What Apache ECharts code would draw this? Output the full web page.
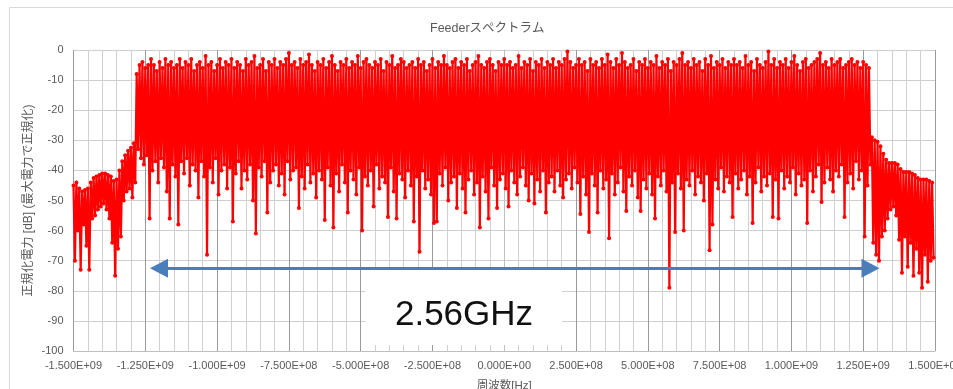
<!DOCTYPE html>
<html>
<head>
<meta charset="utf-8">
<script src="https://cdn.jsdelivr.net/npm/echarts@6/dist/echarts.min.js"></script>
<style>
html,body{margin:0;padding:0;background:#fff;}
#chart{width:953px;height:389px;}
</style>
</head>
<body>
<div id="chart"></div>
<script>
// ---- Data ----
const titleText = 'Feederスペクトラム';
const xAxisName = '周波数[Hz]';
const yAxisName = '正規化電力 [dB] (最大電力で正規化)';
const annotationText = '2.56GHz';

// Frequency bins: each bin holds one high sample and one low sample.
const binStart = -1.5e9;
const binWidth = 1e7;

// Left skirt (-1.50E+09 .. -1.29E+09)
const leftSkirtHigh = [-45,-44,-46,-47,-46.5,-46,-44,-42.5,-42,-41.5,-41,-41,-41.5,-42,-43.5,-43,-40,-37,-35,-33.5,-32.5,-31];
const leftSkirtLow  = [-70,-60,-73,-58,-65,-73,-56,-55,-53,-52,-51,-53,-56,-64,-75,-66,-62,-50,-47,-46,-49,-44];

// Main band (-1.28E+09 .. 1.27E+09)
const bandHigh = [
 -8,-5,-4,-6,-5,-3,-5,-7,-4,-6,-3,-5,-4,-6,-5,-3,
 -6,-4,-5,-3,-7,-5,-4,-6,-2,-5,-4,-7,-5,-3,-6,-4,
 -5,-3,-6,-4,-5,-7,-3,-5,-4,-2,-6,-5,-3,-7,-4,-5,
 -3,-6,-4,-5,-3,-1,-5,-4,-6,-3,-5,-4,-1.5,-5,-7,-4,
 -5,-3,-6,-4,-2,-5,-7,-4,-5,-3,-6,-4,-5,-2,-6,-4,
 -3,-5,-6,-4,-5,-3,-7,-4,-5,-2,-6,-5,-3,-4,-6,-5,
 -4,-6,-3,-5,-4,-7,-5,-3,-6,-4,-5,-2,-5,-6,-4,-3,
 -6,-4,-5,-3,-7,-5,-4,-2,-5,-6,-4,-3,-5,-7,-4,-5,
 -3,-5,-4,-6,-5,-2,-6,-4,-5,-3,-7,-4,-5,-3,-6,-4,
 -5,-3,-6,-4,-5,-3,-0.5,-4,-6,-5,-3,-5,-4,-7,-3,-5,
 -4,-6,-3,-5,-1.5,-4,-6,-3,-5,-1,-4,-6,-5,-3,-7,-4,
 -5,-3,-6,-4,-5,-2,-6,-4,-5,-3,-7,-4,-5,-3,-1,-5,
 -4,-6,-3,-5,-4,-7,-3,-5,-2,-6,-4,-5,-3,-6,-4,-5,
 -3,-5,-4,-6,-2,-5,-4,-7,-3,-5,-6,-4,-0.5,-5,-3,-6,
 -4,-5,-3,-6,-4,-2,-5,-7,-4,-3,-6,-5,-4,-3,-1,-5,
 -4,-6,-3,-5,-4,-3,-6,-5,-4,-3,-5,-4,-6,-4,-5,-6
];
const bandLow = [
 -33,-36,-38,-35,-56,-40,-37,-44,-36,-39,-47,-56,-38,-42,-58,-37,
 -41,-36,-45,-38,-40,-49,-37,-42,-68,-39,-44,-36,-48,-40,-38,-46,
 -39,-57,-41,-37,-46,-40,-43,-38,-50,-61,-39,-42,-37,-54,-44,-40,
 -38,-45,-41,-48,-37,-43,-40,-39,-52.5,-42,-46,-38,-44,-41,-49,-40,
 -43,-56.5,-39,-45,-59,-41,-47,-38,-44,-54,-40,-43,-48,-39,-60,-42,
 -45,-40,-52,-38,-46,-42,-44,-55.5,-39,-47,-56,-41,-43,-49,-40,-45,
 -57,-42,-67,-40,-46,-43,-48,-57.5,-57,-41,-45,-39,-50,-44,-42,-52.5,
 -41,-46,-54,-43,-40,-48,-44,-59,-42,-47,-56,-39,-45,-52.5,-43,-41,
 -46,-52,-40,-44,-48,-42,-39,-45,-50,-41,-51,-43,-47,-40,-54,-44,
 -42,-47,-40,-45,-49,-43,-41,-46,-39,-44,-54.5,-42,-48,-60.5,-41,-45,
 -54,-40,-46,-43,-62.5,-41,-48,-44,-39,-47,-53.5,-42,-45,-40,-49,-53.5,
 -43,-46,-41,-48,-56,-42,-45,-40,-47,-79,-44,-60.5,-41,-46,-60,-43,
 -45,-40,-48,-42,-44,-50,-41,-66.5,-58,-43,-46,-39,-47,-42,-44,-55.5,
 -41,-46,-43,-40,-48,-42,-57.5,-44,-39,-47,-42,-45,-41,-55.5,-43,-56,
 -40,-46,-42,-44,-39,-48,-41,-45,-43,-57.5,-40,-47,-42,-38,-50.5,-44,
 -39,-43,-47,-40,-42,-38,-55.5,-44,-41,-46,-37,-43,-40,-62,-45,-38
];

// Right skirt (1.28E+09 .. 1.49E+09)
const rightSkirtHigh = [-29,-30,-30.5,-32,-34.5,-36.5,-37.5,-37.5,-37.5,-38,-39.5,-40.5,-40.5,-40.5,-41,-41.5,-42.5,-43,-43,-43,-43.5,-44];
const rightSkirtLow  = [-64,-68,-70,-62,-60,-56,-53,-52,-55,-63,-74,-62,-72,-64,-75,-66,-74,-79,-68,-77,-70,-69];

// Annotation: double arrow (frequency, dB) and label
const arrowFrom = [-1.2023e9, -72.5];
const arrowTo   = [1.2754e9, -72.5];

// ---- Build series data ----
const highs = leftSkirtHigh.concat(bandHigh, rightSkirtHigh);
const lows  = leftSkirtLow.concat(bandLow, rightSkirtLow);
const spectrum = [];
for (let i = 0; i < highs.length; i++) {
  const f = binStart + i * binWidth;
  spectrum.push([f, highs[i]]);
  spectrum.push([f + binWidth / 2, lows[i]]);
}

function sci(v) {
  const s = Number(v).toExponential(3);
  const parts = s.split('e');
  const sign = parts[1][0];
  const exp = parts[1].slice(1).padStart(2, '0');
  return parts[0] + 'E' + sign + exp;
}

const FONT = '"Liberation Sans", "Noto Sans CJK JP", sans-serif';
const chart = echarts.init(document.getElementById('chart'), null, {renderer: 'canvas'});
chart.setOption({
  animation: false,
  backgroundColor: '#ffffff',
  textStyle: {fontFamily: FONT},
  title: {
    text: titleText, left: 425, top: 17,
    textStyle: {fontSize: 12.5, fontWeight: 'normal', color: '#595959', fontFamily: FONT}
  },
  grid: {left: 73.5, right: 18, top: 50, bottom: 38, containLabel: false, outerBoundsMode: 'none'},
  xAxis: {
    type: 'value', min: -1.5e9, max: 1.5e9, interval: 2.5e8,
    name: xAxisName, nameLocation: 'middle', nameGap: 29, nameMoveOverlap: false,
    nameTextStyle: {fontSize: 11.5, color: '#595959', fontFamily: FONT},
    axisLine: {show: true, onZero: false, lineStyle: {color: '#bfbfbf', width: 1}},
    axisTick: {show: false},
    axisLabel: {formatter: sci, color: '#595959', fontSize: 11, margin: 9, fontFamily: FONT,
                showMinLabel: true, showMaxLabel: true},
    splitLine: {show: true, lineStyle: {color: '#9a9a9a', width: 1}},
    minorTick: {show: false, splitNumber: 5},
    minorSplitLine: {show: true, lineStyle: {color: '#d0d0d0', width: 1}}
  },
  yAxis: {
    type: 'value', min: -100, max: 0, interval: 10,
    name: yAxisName, nameLocation: 'middle', nameGap: 39, nameMoveOverlap: false,
    nameTextStyle: {fontSize: 12, color: '#595959', fontFamily: FONT},
    axisLine: {show: true, lineStyle: {color: '#bfbfbf', width: 1}},
    axisTick: {show: false},
    axisLabel: {color: '#595959', fontSize: 11, margin: 10, fontFamily: FONT},
    splitLine: {show: true, lineStyle: {color: '#cfcfcf', width: 1}}
  },
  series: [
    {
      type: 'line',
      data: spectrum,
      showSymbol: true,
      showAllSymbol: true,
      symbol: 'circle',
      symbolSize: 4,
      itemStyle: {color: '#ff0000'},
      lineStyle: {color: '#ff0000', width: 2.2},
      sampling: null,
      silent: true,
      z: 2
    },
    {
      type: 'line',
      data: [],
      silent: true,
      z: 5,
      markLine: {
        silent: true,
        symbol: ['triangle', 'triangle'],
        symbolSize: [19, 18],
        label: {show: false},
        lineStyle: {color: '#4a7ebb', width: 3, type: 'solid'},
        emphasis: {disabled: true},
        data: [[{coord: arrowFrom}, {coord: arrowTo}]]
      }
    }
  ],
  graphic: [
    {type: 'rect', z: -10, silent: true,
     shape: {x: 9.5, y: 7.5, width: 1000, height: 420},
     style: {fill: 'none', stroke: '#d9d9d9', lineWidth: 1}},
    {type: 'rect', z: 100, silent: true,
     shape: {x: 365, y: 270, width: 197, height: 75},
     style: {fill: '#ffffff'}},
    {type: 'text', z: 101, silent: true, x: 464, y: 315,
     style: {text: annotationText, fill: '#111111', font: '35px "Liberation Sans", sans-serif',
             align: 'center', verticalAlign: 'middle'}}
  ]
});
</script>
</body>
</html>
